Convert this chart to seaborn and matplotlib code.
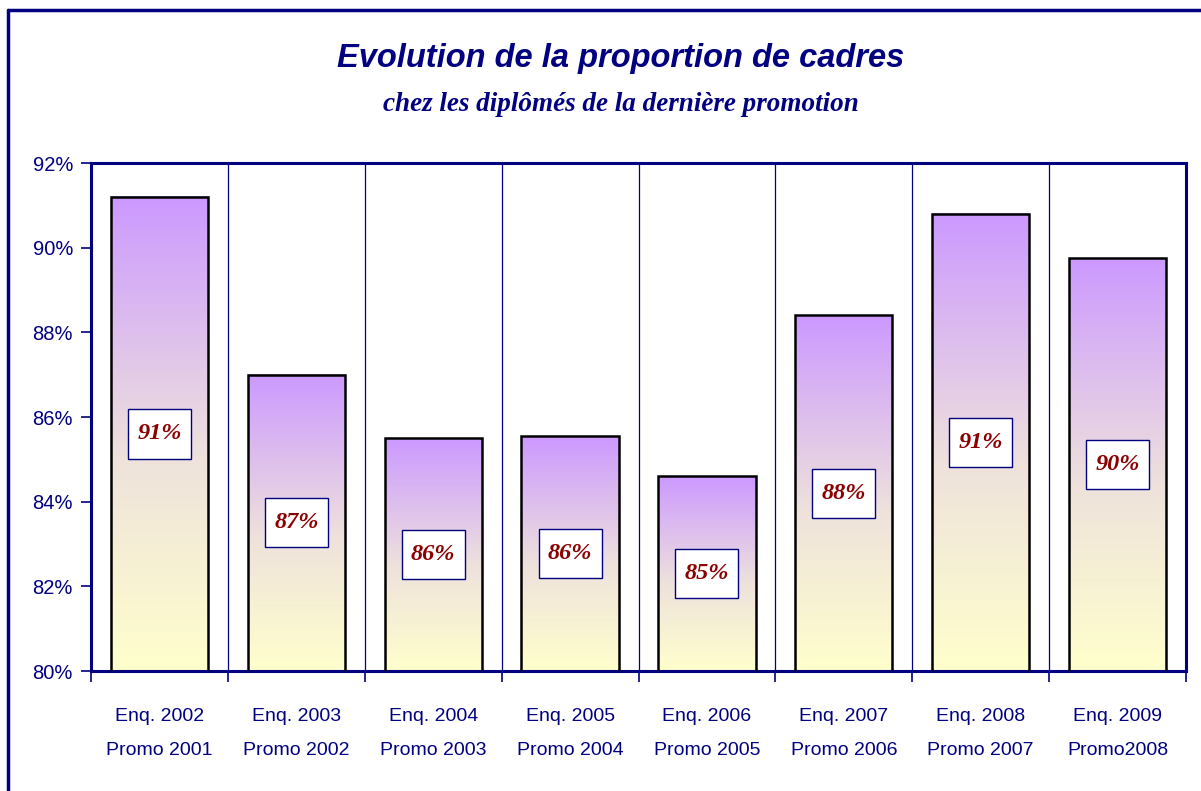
import matplotlib
matplotlib.use("Agg")
import matplotlib.pyplot as plt
import matplotlib.patches as mpatches
import matplotlib.transforms as mtransforms
from matplotlib.lines import Line2D
from matplotlib.colors import LinearSegmentedColormap
from matplotlib.ticker import PercentFormatter, FixedLocator
import numpy as np
import seaborn as sns

# data
categories = ["Enq. 2002\nPromo 2001", "Enq. 2003\nPromo 2002", "Enq. 2004\nPromo 2003",
              "Enq. 2005\nPromo 2004", "Enq. 2006\nPromo 2005", "Enq. 2007\nPromo 2006",
              "Enq. 2008\nPromo 2007", "Enq. 2009\nPromo2008"]
proportions = [91.2, 87.0, 85.5, 85.55, 84.6, 88.4, 90.8, 89.75]
value_labels = ["91%", "87%", "86%", "86%", "85%", "88%", "91%", "90%"]
y_ticks = [80, 82, 84, 86, 88, 90, 92]

NAVY = "#000080"
sns.set_style("white")
plt.rcParams['font.family'] = ['Liberation Sans Narrow', 'Liberation Sans', 'DejaVu Sans']

fig = plt.figure(figsize=(12.01, 7.91), dpi=100)
ax = fig.add_axes([0.0758, 0.1517, 0.9117, 0.6422])

sns.barplot(x=categories, y=proportions, ax=ax, width=0.71,
            edgecolor="black", linewidth=1.8)

ymin, ymax = 80, 92
# gradient fill: purple on top, pale yellow at the bottom
grad_cmap = LinearSegmentedColormap.from_list(
    "bar_grad", [(0, "#FFFFCC"), (0.45, "#EEE2DC"), (1, "#CC99FF")])
grad = np.linspace(0, 1, 256).reshape(-1, 1)
for p in ax.patches:
    p.set_facecolor("none")
    p.set_zorder(3)
    x0, w = p.get_x(), p.get_width()
    top = p.get_y() + p.get_height()
    ax.imshow(grad, cmap=grad_cmap, origin="lower", aspect="auto",
              extent=(x0, x0 + w, ymin, top), zorder=2, interpolation="bicubic")

# value boxes in the middle of each bar
for i, (v, lab) in enumerate(zip(proportions, value_labels)):
    mid = (ymin + v) / 2
    ax.add_patch(mpatches.Rectangle((i - 0.23, mid - 0.58), 0.46, 1.16,
                                    facecolor="white", edgecolor=NAVY, lw=1.0, zorder=4))
    ax.text(i, mid, lab, ha="center", va="center", color="#8B0000",
            fontsize=17.5, fontweight="bold", fontstyle="italic",
            family="Liberation Serif", zorder=5)

ax.set_xlim(-0.5, len(categories) - 0.5)
ax.set_ylim(ymin, ymax)
ax.set_yticks(y_ticks)
ax.yaxis.set_major_formatter(PercentFormatter(decimals=0))

# category labels drawn as text so the two lines can be spaced apart
ax.set_xticks(range(len(categories)), [""] * len(categories))
trans = mtransforms.blended_transform_factory(ax.transData, ax.transAxes)
for i, cat in enumerate(categories):
    ax.text(i, -0.123, cat, transform=trans, ha="center", va="center",
            color=NAVY, fontsize=14, linespacing=2.35)

# category separators as minor ticks / grid
bounds = np.arange(-0.5, len(categories), 1.0)
ax.xaxis.set_minor_locator(FixedLocator(bounds))
ax.grid(False)
ax.grid(True, which="minor", axis="x", color=NAVY, lw=0.9, zorder=1)
ax.tick_params(axis="x", which="major", length=0)
ax.tick_params(axis="x", which="minor", length=8, width=1.2, color=NAVY, direction="out", bottom=True)
ax.tick_params(axis="y", length=7, width=1.2, colors=NAVY, labelsize=14.5, left=True, pad=6)
for s in ax.spines.values():
    s.set_visible(True)
    s.set_color(NAVY)
    s.set_linewidth(2.2)
ax.set_xlabel("")
ax.set_ylabel("")

fig.text(0.517, 0.926, "Evolution de la proportion de cadres", ha="center", va="center",
         color=NAVY, fontsize=23.5, fontweight="bold", fontstyle="italic", family="Liberation Sans")
fig.text(0.517, 0.868, "chez les diplômés de la dernière promotion", ha="center", va="center",
         color=NAVY, fontsize=19.5, fontweight="bold", fontstyle="italic", family="Liberation Serif")

# outer frame (left and top edges visible in the reference)
fx, fy = 7.5 / 1201, 1 - 9.5 / 791
fig.add_artist(Line2D([fx, fx], [0, fy], transform=fig.transFigure, color=NAVY, lw=2.5))
fig.add_artist(Line2D([fx, 1], [fy, fy], transform=fig.transFigure, color=NAVY, lw=2.5))

fig.savefig("out.png", dpi=100)
